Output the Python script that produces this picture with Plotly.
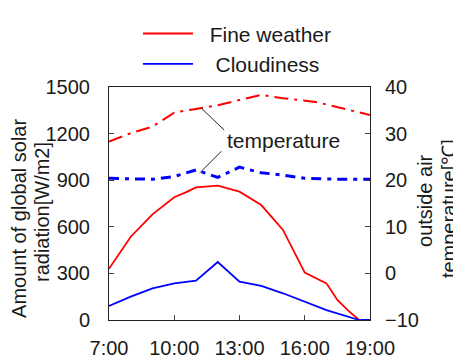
import plotly.graph_objects as go

# Time in hours
rad_hours_fine = [7, 8, 9, 10, 10.5, 11, 12, 13, 14, 15, 16, 16.5, 17, 17.5, 18, 18.5, 19]
rad_fine = [330, 536, 680, 790, 820, 854, 865, 826, 740, 580, 305, 268, 236, 129, 60, 0, 0]

rad_hours_cloud = [7, 8, 9, 10, 11, 12, 13, 14, 15, 16, 17, 18.5, 19]
rad_cloud = [90, 150, 204, 236, 253, 373, 247, 219, 172, 118, 64, 0, 0]

temp_hours_fine = [7, 8, 9, 10, 11, 12, 13, 14, 15, 16.5, 19]
temp_fine = [28.3, 30.1, 31.5, 34.5, 35.3, 36.1, 37.2, 38.3, 37.6, 36.8, 34.0]

temp_hours_cloud = [7, 9, 10, 11, 12, 13, 14, 15, 16, 17.5, 19]
temp_cloud = [20.4, 20.2, 20.8, 22.2, 20.6, 22.8, 21.6, 21.1, 20.4, 20.2, 20.2]

tick_vals = [7, 10, 13, 16, 19]
tick_text = ["7:00", "10:00", "13:00", "16:00", "19:00"]

left_title_lines = ["Amount of global solar", "radiation[W/m2]"]
right_title_lines = ["outside air", "temperature[℃]"]

font_family = "Liberation Sans, Arial, sans-serif"
txt = "#1a1a1a"

fig = go.Figure()
fig.add_trace(go.Scatter(x=rad_hours_fine, y=rad_fine, mode="lines", name="  Fine weather",
                         line=dict(color="#ff0000", width=1.8)))
fig.add_trace(go.Scatter(x=rad_hours_cloud, y=rad_cloud, mode="lines", name="   Cloudiness",
                         line=dict(color="#0000ff", width=1.8)))
fig.add_trace(go.Scatter(x=temp_hours_fine, y=temp_fine, mode="lines", yaxis="y2", showlegend=False,
                         line=dict(color="#ff0000", width=2, dash="14px,6px,3px,6px")))
fig.add_trace(go.Scatter(x=temp_hours_cloud, y=temp_cloud, mode="lines", yaxis="y2", showlegend=False,
                         line=dict(color="#0000ff", width=3, dash="10px,6px,4px,6px")))

axis_common = dict(showgrid=False, zeroline=False, showline=True, linecolor="#222", linewidth=1,
                   ticks="inside", ticklen=5, tickcolor="#444", automargin=False,
                   tickfont=dict(size=20, color=txt, family=font_family))

fig.update_layout(
    width=453, height=355,
    margin=dict(l=101, r=91, t=79, b=43),
    paper_bgcolor="white", plot_bgcolor="white",
    font=dict(family=font_family, color=txt),
    xaxis=dict(range=[7, 19], tickvals=tick_vals, ticktext=tick_text, mirror=True,
               ticklabelstandoff=10, **axis_common),
    yaxis=dict(range=[0, 1500], dtick=300, ticklabelstandoff=14, **axis_common),
    yaxis2=dict(range=[-10, 40], dtick=10, overlaying="y", side="right",
                ticklabelstandoff=10, **axis_common),
    legend=dict(x=0.111, y=0.985, xanchor="left", yanchor="top", yref="container",
                font=dict(size=21, color=txt), bgcolor="rgba(0,0,0,0)", itemwidth=50,
                tracegroupgap=0),
    showlegend=True,
)

# Axis titles, one annotation per line
title_pos = [(-0.345, 0.438), (-0.2567, 0.4635)]
for (px, py), line in zip(title_pos, left_title_lines):
    fig.add_annotation(x=px, y=py, xref="paper", yref="paper", xanchor="center", yanchor="middle",
                       text=line, textangle=-90, showarrow=False, font=dict(size=20, color=txt))
title_pos_r = [(1.2107, 0.515), (1.3027, 0.476)]
for (px, py), line in zip(title_pos_r, right_title_lines):
    fig.add_annotation(x=px, y=py, xref="paper", yref="paper", xanchor="center", yanchor="middle",
                       text=line, textangle=-90, showarrow=False, font=dict(size=20, color=txt))

fig.add_annotation(x=15.0, y=28.6, xref="x", yref="y2", text="temperature", showarrow=False,
                   font=dict(size=21, color=txt))
fig.add_annotation(x=11.26, y=35.4, xref="x", yref="y2", text="", showarrow=True,
                   arrowhead=0, arrowwidth=1, arrowcolor="#222", ax=24, ay=23)
fig.add_annotation(x=11.18, y=21.6, xref="x", yref="y2", text="", showarrow=True,
                   arrowhead=0, arrowwidth=1, arrowcolor="#222", ax=23, ay=-23)

fig.write_html(
    "out.html",
    post_script="document.documentElement.style.overflow='hidden';document.body.style.overflow='hidden';",
)
